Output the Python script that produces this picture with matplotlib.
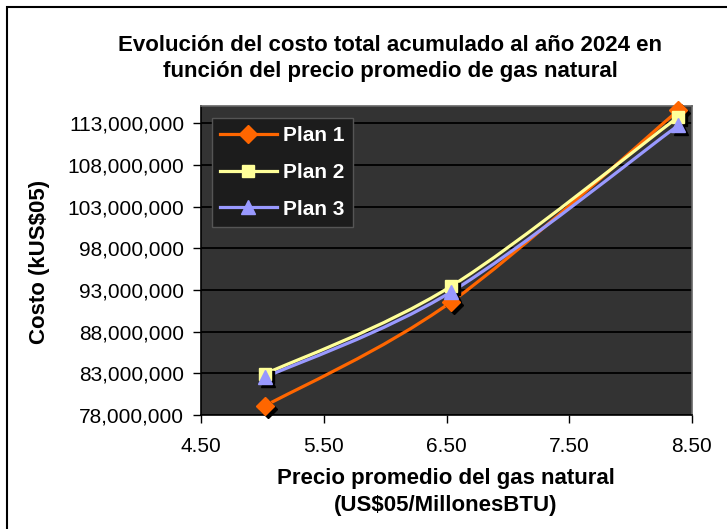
# plot.py
# Run: python3 plot.py

import matplotlib
matplotlib.use("Agg")
import matplotlib.pyplot as plt
import matplotlib.transforms as mtransforms
from matplotlib.lines import Line2D
from matplotlib.patches import PathPatch, Rectangle
from matplotlib.path import Path
from matplotlib.ticker import FuncFormatter

# data
precio = [5.02, 6.54, 8.39]
plan_1 = [79.08e6, 91.6e6, 114.6e6]
plan_2 = [82.92e6, 93.48e6, 113.8e6]
plan_3 = [82.52e6, 92.8e6, 112.8e6]
series_names = ["Plan 1", "Plan 2", "Plan 3"]

x_ticks = [4.5, 5.5, 6.5, 7.5, 8.5]
y_ticks = [78e6, 83e6, 88e6, 93e6, 98e6, 103e6, 108e6, 113e6]

plt.rcParams["font.family"] = ["Liberation Sans", "DejaVu Sans"]

W, H = 727, 529


def smooth_path(xs, ys):
    # Excel-style smoothed line: cubic bezier through the points
    pts = list(zip(xs, ys))
    verts = [pts[0]]
    codes = [Path.MOVETO]
    n = len(pts)
    for i in range(n - 1):
        p0 = pts[i - 1] if i > 0 else pts[i]
        p1 = pts[i]
        p2 = pts[i + 1]
        p3 = pts[i + 2] if i + 2 < n else pts[i + 1]
        c1 = (p1[0] + (p2[0] - p0[0]) / 6, p1[1] + (p2[1] - p0[1]) / 6)
        c2 = (p2[0] - (p3[0] - p1[0]) / 6, p2[1] - (p3[1] - p1[1]) / 6)
        verts += [c1, c2, p2]
        codes += [Path.CURVE4] * 3
    return Path(verts, codes)


def plot_chart():
    fig = plt.figure(figsize=(W / 100, H / 100), dpi=100)
    ax = fig.add_axes([201 / W, 1 - 415 / H, 491 / W, 309 / H])
    ax.set_facecolor("#333333")

    styles = [
        (plan_1, "#FF6600", "D", 9.5),
        (plan_2, "#FFFF99", "s", 9),
        (plan_3, "#9999FF", "^", 10.5),
    ]
    shadow = mtransforms.offset_copy(ax.transData, fig=fig, x=3, y=-3, units="dots")

    handles = []
    for (vals, color, marker, ms), name in zip(styles, series_names):
        patch = PathPatch(smooth_path(precio, vals), fill=False, edgecolor=color,
                          linewidth=2.3, zorder=3, capstyle="round", joinstyle="round")
        ax.add_patch(patch)
        ax.plot(precio, vals, linestyle="none", marker=marker, markersize=ms,
                color="black", transform=shadow, zorder=4, clip_on=False)
        ax.plot(precio, vals, linestyle="none", marker=marker, markersize=ms,
                color=color, zorder=5, clip_on=False)
        handles.append(Line2D([], [], color=color, linewidth=2.3, marker=marker,
                              markersize=ms, label=name))

    ax.set_xlim(4.5, 8.5)
    ax.set_ylim(78e6, 115.1e6)
    ax.set_xticks(x_ticks)
    ax.set_yticks(y_ticks)
    ax.xaxis.set_major_formatter(FuncFormatter(lambda v, p: f"{v:.2f}"))
    ax.yaxis.set_major_formatter(FuncFormatter(lambda v, p: f"{v:,.0f}"))
    ax.tick_params(axis="both", labelsize=15, direction="out", color="black",
                   width=1, length=6)
    ax.tick_params(axis="x", pad=10)
    ax.tick_params(axis="y", pad=6)

    ax.grid(axis="y", color="black", linewidth=1.3)
    ax.set_axisbelow(True)
    for side in ["left", "bottom"]:
        ax.spines[side].set_color("black")
        ax.spines[side].set_linewidth(1.2)
    for side in ["top", "right"]:
        ax.spines[side].set_color("#666666")
        ax.spines[side].set_linewidth(1.2)

    leg = ax.legend(handles=handles, loc="upper left",
                    bbox_to_anchor=(11 / 491, 1 - 12 / 309),
                    borderaxespad=0, fancybox=False, framealpha=1,
                    facecolor="#1c1c1c", edgecolor="#555555",
                    prop={"weight": "bold", "size": 15}, labelcolor="white",
                    handlelength=2.7, handletextpad=0.3, labelspacing=0.85,
                    borderpad=0.4)
    leg.set_zorder(10)

    fig.text(390 / W, 1 - 58.5 / H,
             "Evolución del costo total acumulado al año 2024 en\n"
             "función del precio promedio de gas natural",
             ha="center", va="center", fontsize=16, fontweight="bold",
             linespacing=1.35)
    fig.text(446 / W, 1 - 492 / H,
             "Precio promedio del gas natural\n(US$05/MillonesBTU)",
             ha="center", va="center", fontsize=16, fontweight="bold",
             linespacing=1.4)
    fig.text(40 / W, 1 - 262 / H, "Costo (kUS$05)", rotation=90,
             ha="center", va="center", fontsize=16, fontweight="bold")

    # chart frame (only top and left edges visible in the crop)
    fig.add_artist(Rectangle((7 / W, -0.1), 2, 1 - 7 / H + 0.1, fill=False,
                             edgecolor="black", linewidth=1.5,
                             transform=fig.transFigure))

    fig.savefig("out.png", dpi=100)


if __name__ == "__main__":
    plot_chart()
